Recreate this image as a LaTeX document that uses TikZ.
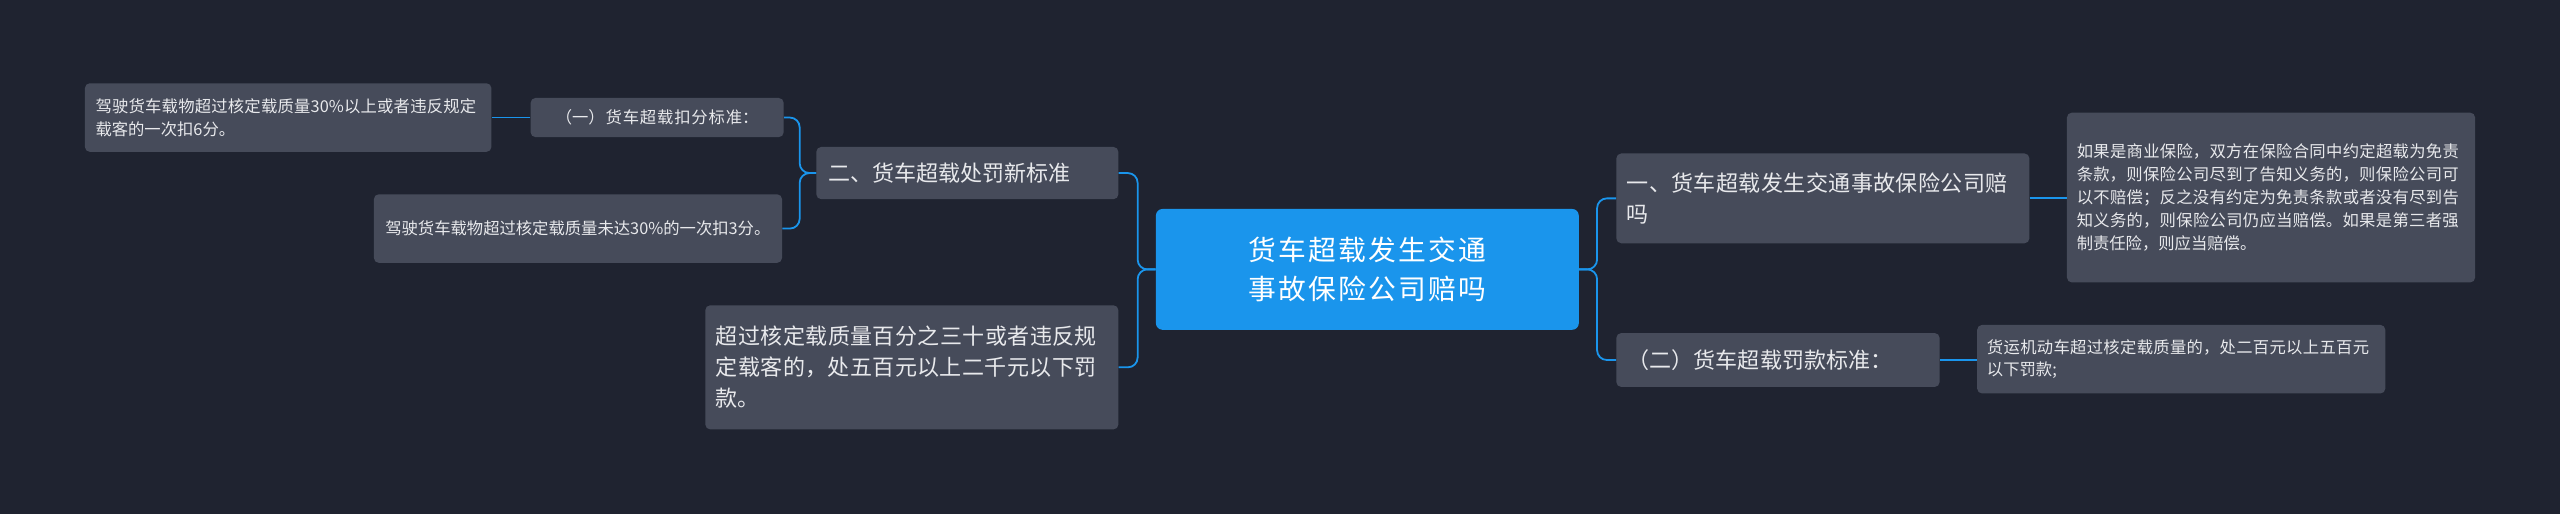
\documentclass[tikz,border=0pt]{standalone}
\usepackage{fontspec}
\setmainfont{Noto Sans CJK SC}
\XeTeXlinebreaklocale "zh"
\XeTeXlinebreakskip=0pt plus 1pt
\usetikzlibrary{calc}
\definecolor{bg}{HTML}{1F2330}
\definecolor{box}{HTML}{464B5A}
\definecolor{blu}{HTML}{1A95EC}
\definecolor{txt}{HTML}{E8E9EC}
\tikzset{
  nb/.style={fill=box,rounded corners=3,text=txt,align=left,inner sep=0pt,font=\fontsize{10}{14}\selectfont},
  br/.style={nb,font=\fontsize{13.5}{19}\selectfont},
  ln/.style={draw=blu,line width=1.1pt,rounded corners=6}
}
\begin{document}
\begin{tikzpicture}[x=1pt,y=-1pt]
\fill[bg] (0,0) rectangle (1568,315);
\useasboundingbox (0,0) rectangle (1568,315);
\node[fill=blu,rounded corners=4,text=white,align=center,font=\fontsize{17}{24}\selectfont,minimum width=259,minimum height=74,text width=240] (c) at (837.5,165) {货车超载发生交通事故保险公司赔吗};
% left
\node[br,minimum width=185,minimum height=32,text width=170] (b2) at (592.5,106) {二、货车超载处罚新标准};
\node[nb,minimum width=155,minimum height=24,text width=145,align=center] (s1) at (402.5,72) {（一）货车超载扣分标准：};
\node[nb,minimum width=249,minimum height=42,text width=236] (l1) at (176.5,72) {驾驶货车载物超过核定载质量30\%以上或者违反规定载客的一次扣6分。};
\node[nb,minimum width=250,minimum height=42,text width=236] (l2) at (354,140) {驾驶货车载物超过核定载质量未达30\%的一次扣3分。};
\node[br,minimum width=253,minimum height=76,text width=240] (b3) at (558.5,225) {超过核定载质量百分之三十或者违反规定载客的，处五百元以上二千元以下罚款。};
% right
\node[br,minimum width=253,minimum height=55,text width=240] (b1) at (1116.5,121.5) {一、货车超载发生交通事故保险公司赔吗};
\node[nb,minimum width=250,minimum height=104,text width=238] (r1) at (1391,121) {如果是商业保险，双方在保险合同中约定超载为免责条款，则保险公司尽到了告知义务的，则保险公司可以不赔偿；反之没有约定为免责条款或者没有尽到告知义务的，则保险公司仍应当赔偿。如果是第三者强制责任险，则应当赔偿。};
\node[br,minimum width=198,minimum height=33,text width=184] (s2) at (1089,220.5) {（二）货车超载罚款标准：};
\node[nb,minimum width=250,minimum height=42,text width=238] (r2) at (1336,220) {货运机动车超过核定载质量的，处二百元以上五百元以下罚款;};
% connectors
\draw[ln] (c.west) -- ++(-11,0) |- (b2.east);
\draw[ln] (c.west) -- ++(-11,0) |- (b3.east);
\draw[ln] (b2.west) -- ++(-10,0) |- (s1.east);
\draw[ln] (b2.west) -- ++(-10,0) |- (l2.east);
\draw[ln] (s1.west) -- (l1.east|-s1.west);
\draw[ln] (c.east) -- ++(11,0) |- (b1.west);
\draw[ln] (c.east) -- ++(11,0) |- (s2.west);
\draw[ln] (b1.east) -- (r1.west|-b1.east);
\draw[ln] (s2.east) -- (r2.west|-s2.east);
\end{tikzpicture}
\end{document}
